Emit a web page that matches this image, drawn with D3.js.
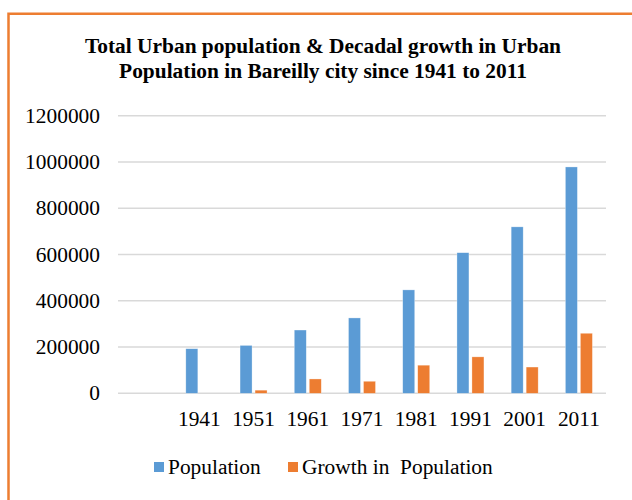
<!DOCTYPE html>
<html>
<head>
<meta charset="utf-8">
<script src="https://cdn.jsdelivr.net/npm/d3@7"></script>
<style>
  body { margin: 0; background: #fff; }
  svg text { font-family: "Liberation Serif", "Times New Roman", serif; fill: #000; }
</style>
</head>
<body>
<svg width="632" height="500"></svg>
<script>
// data
const years = ["", "1941", "1951", "1961", "1971", "1981", "1991", "2001", "2011"];
const population = [null, 192700, 207000, 273500, 325800, 447000, 607800, 719500, 978500];
const growth = [null, null, 13500, 62000, 52000, 121500, 157500, 113500, 259500];
const yTicks = [0, 200000, 400000, 600000, 800000, 1000000, 1200000];
const seriesNames = ["Population", "Growth in  Population"];
const colors = ["#5B9BD5", "#ED7D31"];

const svg = d3.select("svg");

// frame border (orange, open to the right and bottom)
svg.append("path")
	.attr("d", "M8.5,500 V13.7 H632")
	.attr("fill", "none")
	.attr("stroke", "#ED7D31")
	.attr("stroke-width", 2.5);

// text in the picture is a bit wider than normal, stretch it horizontally
const stretch = (sel, cx, cy) => sel.attr("transform", `translate(${cx},${cy}) scale(1.07,1)`);

// title
const title = svg.append("text")
	.attr("text-anchor", "middle")
	.attr("font-weight", "bold")
	.attr("font-size", 20)
	.call(stretch, 323, 0);
title.append("tspan").attr("x", 0).attr("y", 53).text("Total Urban population & Decadal growth in Urban");
title.append("tspan").attr("x", 0).attr("y", 78).text("Population in Bareilly city since 1941 to 2011");

const x = d3.scaleBand().domain(years).range([118, 606]);
const y = d3.scaleLinear().domain([0, 1200000]).range([393.3, 115.7]);

// gridlines
svg.append("g")
	.selectAll("line")
	.data(yTicks)
	.enter()
	.append("line")
	.attr("x1", 118)
	.attr("x2", 606)
	.attr("y1", (d) => y(d))
	.attr("y2", (d) => y(d))
	.attr("stroke", "#d9d9d9")
	.attr("stroke-width", 1.5);

// y labels
svg.append("g")
	.selectAll("text")
	.data(yTicks)
	.enter()
	.append("text")
	.attr("text-anchor", "end")
	.attr("font-size", 20)
	.each(function (d) { stretch(d3.select(this), 100, y(d) + 7); })
	.text((d) => d);

// x labels
svg.append("g")
	.selectAll("text")
	.data(years)
	.enter()
	.append("text")
	.attr("text-anchor", "middle")
	.attr("font-size", 20)
	.each(function (d) { stretch(d3.select(this), x(d) + x.bandwidth() / 2, 426); })
	.text((d) => d);

// bars
const barW = 12;
[population, growth].forEach((series, s) => {
	svg.append("g")
		.selectAll("rect")
		.data(years.map((yr, i) => ({ yr, v: series[i] })).filter((d) => d.v != null))
		.enter()
		.append("rect")
		.attr("x", (d) => x(d.yr) + x.bandwidth() / 2 + (s === 0 ? -1.5 - barW : 1.5))
		.attr("width", barW)
		.attr("y", (d) => y(d.v))
		.attr("height", (d) => y(0) - y(d.v))
		.attr("fill", colors[s])
		.attr("stroke", "#fff")
		.attr("stroke-opacity", 0.5)
		.attr("stroke-width", 0.6);
});

// legend
const legendX = [154, 288];
seriesNames.forEach((name, s) => {
	svg.append("rect")
		.attr("x", legendX[s])
		.attr("y", 462)
		.attr("width", 10)
		.attr("height", 10)
		.attr("fill", colors[s]);
	svg.append("text")
		.attr("font-size", 20)
		.attr("xml:space", "preserve")
		.style("white-space", "pre")
		.call(stretch, legendX[s] + 14, 474)
		.text(name);
});
</script>
</body>
</html>
